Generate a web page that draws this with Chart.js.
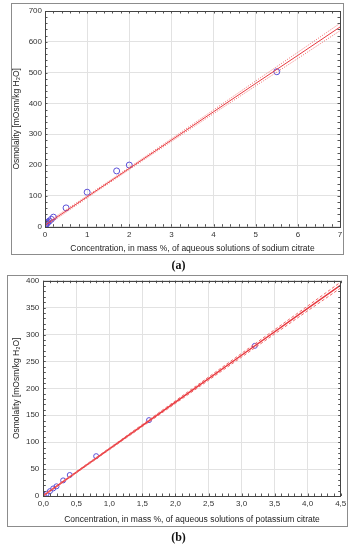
<!DOCTYPE html>
<html>
<head>
  <script src="https://cdn.jsdelivr.net/npm/chart.js@4.4.0/dist/chart.umd.min.js"></script>
  <style>
    body { margin: 0; background: #fff; }
    #page { position: relative; width: 357px; height: 550px; overflow: hidden; }
    .frame { position: absolute; box-sizing: border-box; border: 1.5px solid #8c8c8c; }
    .cv { position: absolute; left: 0; }
    .tag { position: absolute; width: 357px; text-align: center; font: bold 12px "Liberation Serif", serif; color: #111; }
  </style>
</head>
<body>
<div id="page">
  <div class="frame" style="left:11px;top:3px;width:333px;height:252px"></div>
  <div class="frame" style="left:7px;top:275px;width:341px;height:252px"></div>
  <div class="cv" style="top:0;width:357px;height:262px"><canvas id="chartA"></canvas></div>
  <div class="cv" style="top:262px;width:357px;height:288px"><canvas id="chartB"></canvas></div>
  <div class="tag" style="top:258px">(a)</div>
  <div class="tag" style="top:530px">(b)</div>
</div>
<script>
  // (a) sodium citrate
  const concA = [0.005, 0.01, 0.02, 0.03, 0.04, 0.05, 0.07, 0.1, 0.15, 0.2, 0.5, 1.0, 1.7, 2.0, 5.5];
  const osmA = [3, 5, 7, 9, 11, 12, 15, 18, 24, 31, 61, 112, 181, 200, 503];
  const fitXA = [0, 1, 2, 3, 4, 5, 6, 7];
  const fitA = [5, 97, 189, 281, 373, 465, 556, 648];
  const upperA = [10, 100.5, 192.5, 285.5, 379, 473, 566, 660];
  const lowerA = [0, 93.5, 185.5, 276.5, 367, 457, 546, 636];

  // (b) potassium citrate
  const concB = [0.01, 0.05, 0.1, 0.15, 0.2, 0.3, 0.4, 0.8, 1.6, 3.2];
  const osmB = [1, 4, 9, 14, 18, 29, 39, 74, 141, 279];
  const fitXB = [0, 1, 2, 3, 4, 4.5];
  const fitB = [0.5, 87.5, 174.5, 261.5, 348.5, 392];
  const upperB = [2, 89, 177, 265, 353, 397.5];
  const lowerB = [0, 86, 172, 258, 344, 386.5];

  const yTitle = 'Osmolality [mOsm/kg H\u2082O]';
  const tickFont = { family: 'Liberation Sans', size: 8 };
  const titleFont = { family: 'Liberation Sans', size: 8.5 };

  function pts(xs, ys) {
    return xs.map((x, i) => ({ x: x, y: ys[i] }));
  }

  // frame around plot area + small inward minor ticks
  const framePlugin = {
    id: 'frame',
    afterDraw(chart, args, opts) {
      const a = chart.chartArea, ctx = chart.ctx;
      const xs = chart.scales.x, ys = chart.scales.y;
      ctx.save();
      ctx.strokeStyle = '#555';
      ctx.lineWidth = 1;
      ctx.beginPath();
      for (let v = xs.min; v <= xs.max + 1e-9; v += opts.xMinor) {
        const px = Math.round(xs.getPixelForValue(v)) + 0.5;
        ctx.moveTo(px, a.top); ctx.lineTo(px, a.top + 2.5);
        ctx.moveTo(px, a.bottom); ctx.lineTo(px, a.bottom - 2.5);
      }
      for (let v = ys.min; v <= ys.max + 1e-9; v += opts.yMinor) {
        const py = Math.round(ys.getPixelForValue(v)) + 0.5;
        ctx.moveTo(a.left, py); ctx.lineTo(a.left + 2.5, py);
        ctx.moveTo(a.right, py); ctx.lineTo(a.right - 2.5, py);
      }
      ctx.stroke();
      ctx.strokeStyle = '#444';
      ctx.strokeRect(Math.round(a.left) + 0.5, Math.round(a.top) + 0.5,
        Math.round(a.right - a.left), Math.round(a.bottom - a.top));
      ctx.restore();
    }
  };

  function makeChart(id, cfg) {
    return new Chart(document.getElementById(id), {
      type: 'scatter',
      data: {
        datasets: [
          { data: pts(cfg.fitX, cfg.upper), showLine: true, pointRadius: 0, borderColor: '#f06a6a',
            borderWidth: 1, borderDash: cfg.bandDash, fill: false },
          { data: pts(cfg.fitX, cfg.lower), showLine: true, pointRadius: 0, borderColor: '#f06a6a',
            borderWidth: 1, borderDash: cfg.bandDash, fill: false },
          { data: pts(cfg.fitX, cfg.fit), showLine: true, pointRadius: 0, borderColor: '#e8383f',
            borderWidth: cfg.lineWidth, fill: false },
          { data: pts(cfg.conc, cfg.osm), pointRadius: cfg.r, pointBorderWidth: 1,
            pointBackgroundColor: 'rgba(0,0,0,0)', pointBorderColor: '#5a50d8' }
        ]
      },
      options: {
        responsive: true,
        maintainAspectRatio: false,
        animation: false,
        events: [],
        layout: { padding: cfg.pad },
        plugins: {
          legend: { display: false },
          tooltip: { enabled: false },
          frame: { xMinor: cfg.xMinor, yMinor: cfg.yMinor }
        },
        scales: {
          x: {
            type: 'linear', min: 0, max: cfg.xMax,
            grid: { color: '#e2e2e2', drawTicks: false },
            border: { display: false },
            ticks: { stepSize: cfg.xStep, padding: 3, color: '#333', font: tickFont, maxRotation: 0,
              callback: cfg.xFmt },
            title: { display: true, text: cfg.xTitle, color: '#222', font: titleFont, padding: 4 },
            afterFit: s => { s.height = cfg.xH; }
          },
          y: {
            type: 'linear', min: 0, max: cfg.yMax,
            grid: { color: '#e2e2e2', drawTicks: false },
            border: { display: false },
            ticks: { stepSize: cfg.yStep, padding: cfg.yPad, color: '#333', font: tickFont },
            title: { display: true, text: yTitle, color: '#222', font: titleFont, padding: 4 },
            afterFit: s => { s.width = cfg.yW; }
          }
        }
      },
      plugins: [framePlugin]
    });
  }

  makeChart('chartA', {
    conc: concA, osm: osmA, fitX: fitXA, fit: fitA, upper: upperA, lower: lowerA,
    bandDash: [1, 1.5], lineWidth: 1, r: 3,
    xMax: 7, xStep: 1, yMax: 700, yStep: 100, xMinor: 0.2, yMinor: 20,
    xFmt: v => String(v),
    xTitle: 'Concentration, in mass %, of aqueous solutions of sodium citrate',
    pad: { left: 8, top: 11, right: 17, bottom: 4 }, xH: 31.3, yW: 37, yPad: 3
  });

  makeChart('chartB', {
    conc: concB, osm: osmB, fitX: fitXB, fit: fitB, upper: upperB, lower: lowerB,
    bandDash: [3, 2], lineWidth: 1.5, r: 2.5,
    xMax: 4.5, xStep: 0.5, yMax: 400, yStep: 50, xMinor: 0.1, yMinor: 10,
    xFmt: v => v.toFixed(1).replace('.', ','),
    xTitle: 'Concentration, in mass %, of aqueous solutions of potassium citrate',
    pad: { left: 8, top: 18.7, right: 16.3, bottom: 21.5 }, xH: 32.5, yW: 35.3, yPad: 4
  });
</script>
</body>
</html>
